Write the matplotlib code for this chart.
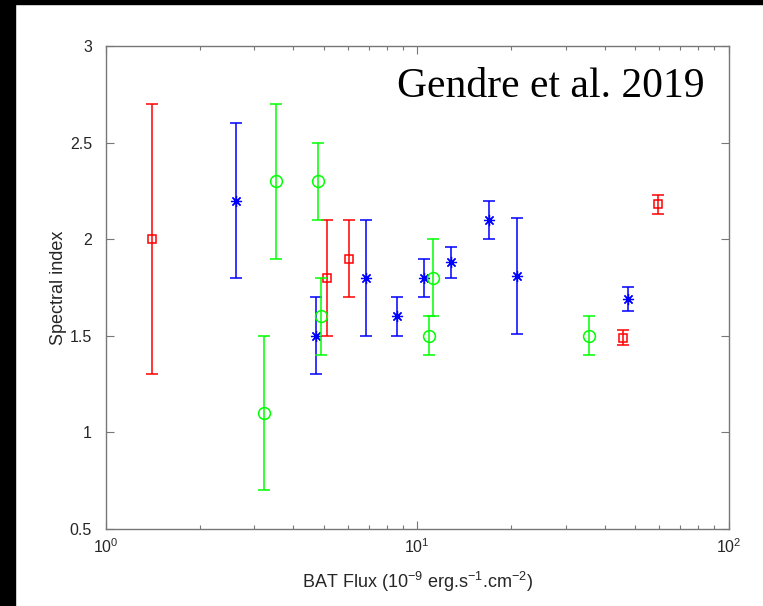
import numpy as np
import matplotlib
matplotlib.use("Agg")
import matplotlib.pyplot as plt
from matplotlib.patches import Rectangle

plt.rcParams['font.family'] = ['Liberation Sans', 'DejaVu Sans']
plt.rcParams['mathtext.fontset'] = 'custom'
plt.rcParams['mathtext.rm'] = 'Liberation Sans'
plt.rcParams['mathtext.it'] = 'Liberation Sans:italic'

# red squares
flux_r = [1.41, 5.12, 6.04, 45.7, 59.5]
idx_r = [2.0, 1.8, 1.9, 1.49, 2.18]
lo_r = [1.3, 1.5, 1.7, 1.45, 2.13]
hi_r = [2.7, 2.1, 2.1, 1.53, 2.23]

# blue stars
flux_b = [2.61, 4.72, 6.83, 8.62, 10.5, 12.8, 17.0, 20.9, 47.5]
idx_b = [2.2, 1.5, 1.8, 1.6, 1.8, 1.88, 2.1, 1.81, 1.69]
lo_b = [1.8, 1.3, 1.5, 1.5, 1.7, 1.8, 2.0, 1.51, 1.63]
hi_b = [2.6, 1.7, 2.1, 1.7, 1.9, 1.96, 2.2, 2.11, 1.75]

# green circles
flux_g = [3.22, 3.52, 4.81, 4.92, 10.9, 11.2, 35.6]
idx_g = [1.1, 2.3, 2.3, 1.6, 1.5, 1.8, 1.5]
lo_g = [0.7, 1.9, 2.1, 1.4, 1.4, 1.6, 1.4]
hi_g = [1.5, 2.7, 2.5, 1.8, 1.6, 2.0, 1.6]

fig = plt.figure(figsize=(7.63, 6.06), dpi=100)
ax = fig.add_axes([0.1389, 0.1271, 0.8159, 0.797])

series = [
    (flux_r, idx_r, lo_r, hi_r, '#ff0000', 's', 6.3, 1.1),
    (flux_b, idx_b, lo_b, hi_b, '#0000ff', (8, 2, 0), 8.0, 0.9),
    (flux_g, idx_g, lo_g, hi_g, '#00ff00', 'o', 8.5, 1.1),
]
for fx, iy, lo, hi, col, mk, ms, mew in series:
    iy = np.array(iy)
    err = [iy - np.array(lo), np.array(hi) - iy]
    ax.errorbar(fx, iy, yerr=err, fmt='none', ecolor=col, elinewidth=1.1,
                capsize=4.3, capthick=1.1)
    ax.plot(fx, iy, linestyle='none', marker=mk, markersize=ms, color=col,
            markerfacecolor='none', markeredgecolor=col, markeredgewidth=mew)

ax.set_xscale('log')
ax.set_xlim(1, 100)
ax.set_ylim(0.5, 3)
ax.set_yticks([0.5, 1, 1.5, 2, 2.5, 3])
ax.set_yticklabels(['0.5', '1', '1.5', '2', '2.5', '3'])
ax.set_xticks([1, 10, 100])
ax.set_xticklabels([r'$10^0$', r'$10^1$', r'$10^2$'])

for s in ax.spines.values():
    s.set_color('#777777')
    s.set_linewidth(1.0)
ax.tick_params(which='both', direction='in', top=True, right=True,
               color='#777777', labelsize=11.5, labelcolor='#262626')
ax.tick_params(which='major', length=6, width=0.8)
ax.tick_params(which='minor', length=3, width=0.8)
ax.tick_params(axis='x', which='major', pad=6)
ax.tick_params(axis='y', which='major', pad=10)

ax.set_xlabel(r'BAT Flux (10$^{-9}$ erg.s$^{-1}$.cm$^{-2}$)', fontsize=13, color='#262626', labelpad=10)
ax.set_ylabel('Spectral index', fontsize=13, color='#262626', labelpad=2)

ax.text(0.467, 0.895, 'Gendre et al. 2019', transform=ax.transAxes,
        family='Liberation Serif', fontsize=30, ha='left', va='baseline')

# black border strips of the screenshot
fig.patches.append(Rectangle((0, 0), 15 / 763, 1, transform=fig.transFigure,
                             color='black', zorder=10))
fig.patches.append(Rectangle((0, 1 - 4 / 606), 1, 4 / 606, transform=fig.transFigure,
                             color='black', zorder=10))

fig.savefig('out.png', dpi=100)
